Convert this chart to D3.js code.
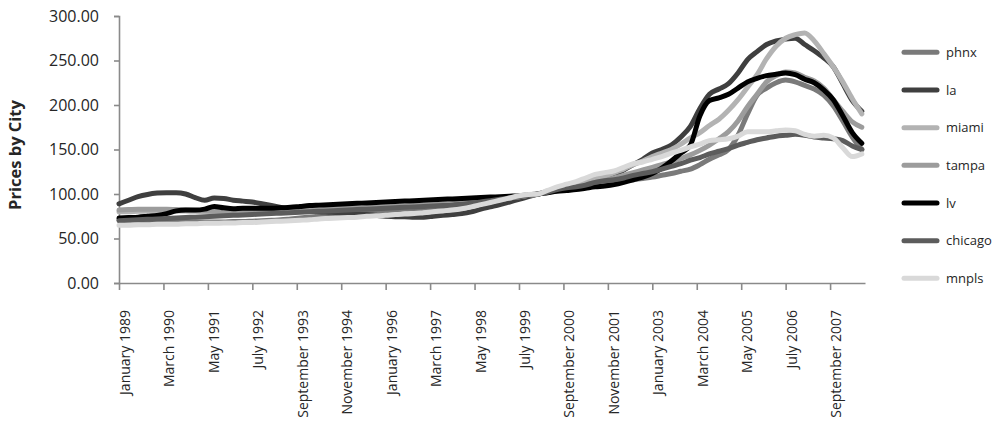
<!DOCTYPE html>
<html>
<head>
<meta charset="utf-8">
<script src="https://cdn.jsdelivr.net/npm/d3@7/dist/d3.min.js"></script>
<style>
  html, body { margin: 0; padding: 0; background: #ffffff; }
  svg { display: block; font-family: "Open Sans", "Noto Sans", sans-serif; }
</style>
</head>
<body>
<svg id="chart" width="992" height="422"></svg>
<script>
// ---------------- DATA ----------------
// Quarterly readings (Jan, Apr, Jul, Oct) from January 1989 to July 2008
const seriesNames = ["phnx", "la", "miami", "tampa", "lv", "chicago", "mnpls"];
const seriesColors = ["#7a7a7a", "#3f3f3f", "#b3b3b3", "#9c9c9c", "#000000", "#5c5c5c", "#d9d9d9"];

const tickLabels = ["January 1989", "March 1990", "May 1991", "July 1992", "September 1993",
  "November 1994", "January 1996", "March 1997", "May 1998", "July 1999", "September 2000",
  "November 2001", "January 2003", "March 2004", "May 2005", "July 2006", "September 2007"];

const yTicks = [0, 50, 100, 150, 200, 250, 300];

const phnx = [
  71, 71, 70.5, 70,      70, 69.5, 69, 69,      68.5, 68.5, 68.5, 68.5,  69, 69, 69.5, 70,
  70.5, 71, 72, 73,      74, 75, 76, 77,        78, 79, 80, 80.5,        81, 82, 83, 83.5,
  84, 85, 86, 87,        88, 89, 90.5, 92,      93.5, 95, 97, 98.5,      100, 102, 104, 105.5,
  107, 108.5, 110, 111.5, 113, 114.5, 116, 117.5, 119, 121, 123, 125.5,  128, 133, 139, 144,
  150, 166, 190, 211,    219, 225, 228, 226,    222, 218, 211, 199,      182, 164, 150];

const la = [
  89, 93, 97, 99.5,      101, 101.5, 101.5, 100, 96, 93, 95.5, 95,       93, 92, 91, 89,
  87, 85, 83, 82,        81, 80, 79.5, 79,      78, 77.5, 77, 76,        75, 74.5, 74.5, 74,
  74, 75, 76, 77,        78, 80, 83, 85.5,      88, 91, 94, 97,          100, 103, 106, 108,
  110, 113, 116, 119,    122, 127, 133, 139,    146, 150, 155, 164,      176, 196, 212, 218,
  224, 236, 251, 260,    268, 272, 274, 275,    268, 261, 253, 243,      224, 205, 193];

const miami = [
  80, 80, 80.5, 80.5,    81, 81, 81, 81,        80.5, 80.5, 80, 80,      80, 80, 80.5, 80.5,
  81, 81, 81.5, 82,      82, 82.5, 83, 83,      83.5, 84, 84, 84.5,      85, 85.5, 86, 86,
  86.5, 87, 87.5, 88,    89, 90, 91, 92.5,      94, 95.5, 97, 98.5,      100, 102, 105, 108,
  110, 114, 117, 120,    124, 128, 133, 137,    142, 146, 150, 156,      163, 169, 177, 184,
  194, 206, 220, 234,    252, 266, 275, 279,    281, 272, 258, 243,      226, 207, 190];

const tampa = [
  82, 82.5, 83, 83,      83, 83, 82.5, 82,      81.5, 81, 81, 80.5,      80.5, 80.5, 80.5, 81,
  81, 81.5, 82, 82,      82.5, 83, 83, 83.5,    84, 84, 84.5, 85,        85.5, 86, 86.5, 87,
  87.5, 88, 88.5, 89,    90, 91, 92, 93,        94, 95.5, 97, 98.5,      100, 102, 104, 106,
  108, 110, 113, 115,    118, 121, 124, 127,    130, 133, 136, 140,      144, 149, 155, 162,
  170, 182, 198, 212,    226, 233, 237, 236,    231, 227, 219, 206,      193, 181, 175];

const lv = [
  73, 73.5, 74, 75,      76, 78, 81, 82,        82, 83, 86, 84.5,        83.5, 84, 84, 84,
  84, 84.5, 85, 86,      87, 87.5, 88, 88.5,    89, 89.5, 90, 90.5,      91, 91.5, 92, 92.5,
  93, 93.5, 94, 94.5,    95, 95.5, 96, 96.5,    97, 97.5, 98, 99,        100, 101.5, 103, 104,
  105, 106.5, 108, 109,  110.5, 113, 116, 119,  123, 129, 137, 146,      155, 188, 205, 208,
  212, 219, 226, 230,    233, 234.5, 236, 234,  229, 225, 217, 206,      188, 169, 157];

const chicago = [
  70, 70.5, 71, 71.5,    72, 72.5, 73, 73.5,    74, 74.5, 75, 75.5,      76, 76.5, 77, 77.5,
  78, 78.5, 79, 79.5,    80, 80.5, 81, 81.5,    82, 82.5, 83, 83.5,      84, 84.5, 85, 85.5,
  86, 86.5, 87, 87.5,    88.5, 89.5, 91, 92.5,  94, 95.5, 97, 98.5,      100, 102, 105, 107,
  108, 110, 113, 115,    116, 118, 121, 123,    125, 128, 131, 134,      138, 141, 145, 148,
  151, 155, 158, 161,    163, 165, 166, 167,    166, 164, 163, 162,      160, 154, 150];

const mnpls = [
  65, 65, 65.5, 65.5,    66, 66, 66, 66.5,      66.5, 67, 67, 67.5,      67.5, 68, 68, 68.5,
  69, 69.5, 70, 70.5,    71, 72, 72.5, 73,      73.5, 74, 75, 75.5,      76, 77, 77.5, 78,
  79, 80, 81, 82,        83.5, 85.5, 88, 90.5,  93, 95.5, 98, 99.5,      100, 104, 108, 111,
  114, 118, 122, 124,    126, 130, 134, 136,    139, 142, 146, 149,      153, 156, 160, 161,
  162, 165, 170, 170,    170, 171, 172, 171,    167, 165, 166, 163,      152, 142, 145];

const seriesValues = [phnx, la, miami, tampa, lv, chicago, mnpls];
const monthsPerPoint = 3;      // quarterly readings
const monthsPerTick = 14;      // one label every 14 months
const lastMonthIndex = 235;    // January 1989 .. August 2008 categories

// ---------------- DRAW ----------------
const svg = d3.select("#chart");

const x = d3.scaleLinear().domain([0, lastMonthIndex]).range([119, 865]);
const y = d3.scaleLinear().domain([0, 300]).range([283, 16]);

const axisColor = "#8a8a8a";
const textColor = "#262626";

// Y axis
const yAxis = svg.append("g")
  .attr("transform", `translate(${x(0)},0)`)
  .call(d3.axisLeft(y).tickValues(yTicks).tickSize(5).tickPadding(15).tickFormat(d3.format(".2f")));
yAxis.select(".domain").attr("stroke", axisColor).attr("stroke-width", 1.6);
yAxis.selectAll(".tick line").attr("stroke", axisColor).attr("stroke-width", 1.6);
yAxis.selectAll(".tick text")
  .attr("fill", textColor)
  .style("font-size", "16px")
  .style("font-family", "'Open Sans', sans-serif");

// X axis
const tickMonths = tickLabels.map((d, i) => i * monthsPerTick);
const xAxis = svg.append("g")
  .attr("transform", `translate(0,${y(0)})`)
  .call(d3.axisBottom(x).tickValues(tickMonths).tickSize(7).tickSizeOuter(0).tickFormat(""));
xAxis.select(".domain").attr("stroke", axisColor).attr("stroke-width", 1.6);
xAxis.selectAll(".tick line").attr("stroke", axisColor).attr("stroke-width", 1.6);
xAxis.selectAll(".tick text").remove();

svg.append("g").selectAll("text")
  .data(tickLabels)
  .join("text")
  .attr("transform", (d, i) => `translate(${x(tickMonths[i]) + 11},310) rotate(-90)`)
  .attr("text-anchor", "end")
  .attr("fill", textColor)
  .style("font-size", "14px")
  .text(d => d);

// Y title
svg.append("text")
  .attr("transform", "translate(21,155) rotate(-90)")
  .attr("text-anchor", "middle")
  .attr("fill", textColor)
  .style("font-size", "16.5px")
  .style("font-weight", "bold")
  .text("Prices by City");

// Lines
const line = d3.line()
  .x((d, i) => x(i * monthsPerPoint))
  .y(d => y(d))
  .curve(d3.curveMonotoneX);

svg.append("g").selectAll("path")
  .data(seriesValues)
  .join("path")
  .attr("d", d => line(d))
  .attr("fill", "none")
  .attr("stroke", (d, i) => seriesColors[i])
  .attr("stroke-width", 5)
  .attr("stroke-linecap", "round")
  .attr("stroke-linejoin", "round");

// Legend
const legend = svg.append("g").selectAll("g")
  .data(seriesNames)
  .join("g")
  .attr("transform", (d, i) => `translate(0,${52.3 + i * 37.67})`);
legend.append("line")
  .attr("x1", 904).attr("x2", 937).attr("y1", 0).attr("y2", 0)
  .attr("stroke", (d, i) => seriesColors[i])
  .attr("stroke-width", 5)
  .attr("stroke-linecap", "round");
legend.append("text")
  .attr("x", 946).attr("y", 0).attr("dy", "0.35em")
  .attr("fill", textColor)
  .style("font-size", "13px")
  .text(d => d);
</script>
</body>
</html>
